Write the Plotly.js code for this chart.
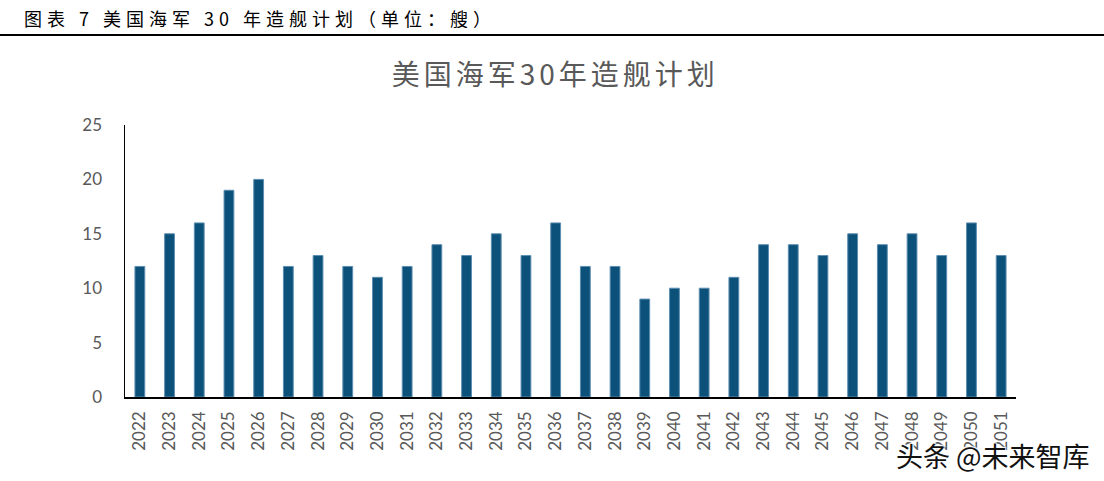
<!DOCTYPE html>
<html>
<head>
<meta charset="utf-8">
<script src="https://cdn.plot.ly/plotly-3.0.1.min.js"></script>
<style>
html,body{margin:0;padding:0;background:#fff;}
#chart{width:1104px;height:481px;}
</style>
</head>
<body>
<div id="chart"></div>
<script>
const years = ["2022","2023","2024","2025","2026","2027","2028","2029","2030","2031","2032","2033","2034","2035","2036","2037","2038","2039","2040","2041","2042","2043","2044","2045","2046","2047","2048","2049","2050","2051"];
const ships = [12,15,16,19,20,12,13,12,11,12,14,13,15,13,16,12,12,9,10,10,11,14,14,13,15,14,15,13,16,13];
const yTicks = [0,5,10,15,20,25];
const headerText = "图表 7 美国海军 30 年造舰计划（单位：艘）";
const titleText = "美国海军30年造舰计划";
const watermark = "头条 @未来智库";

const trace = {
  type: 'bar',
  x: years,
  y: ships,
  marker: {color: '#0b5179', line: {color: '#5d8db0', width: 1}},
  hoverinfo: 'x+y'
};

const layout = {
  width: 1104, height: 481,
  paper_bgcolor: '#fff', plot_bgcolor: '#fff',
  margin: {l: 125, r: 88, t: 125, b: 84},
  bargap: 0.67,
  showlegend: false,
  title: {text: titleText, x: 0.503, xanchor: 'center', y: 1 - 75/481, yanchor: 'middle', yref: 'container',
          font: {family: 'Noto Sans CJK SC', size: 28, color: '#595959'}},
  xaxis: {
    type: 'category', showgrid: false, zeroline: false,
    showline: true, linecolor: '#000', linewidth: 1.5,
    ticks: '', tickangle: -90, ticklabelstandoff: 6,
    tickfont: {family: 'Lato, Open Sans, sans-serif', size: 17, color: '#595959'}
  },
  yaxis: {
    range: [0, 25], tickvals: yTicks, showgrid: false, zeroline: false,
    showline: true, linecolor: '#000', linewidth: 1.5,
    ticks: '', ticklabelstandoff: 18,
    tickfont: {family: 'Lato, Open Sans, sans-serif', size: 17, color: '#595959'}
  },
  shapes: [
    {type: 'line', xref: 'paper', yref: 'paper', x0: -125/891, x1: (1104-125)/891,
     y0: 1 + (125-35)/272, y1: 1 + (125-35)/272, line: {color: '#000', width: 2}}
  ],
  annotations: [
    {text: headerText, xref: 'paper', yref: 'paper', x: (260-125)/891, y: 1 + (125-18)/272,
     xanchor: 'center', yanchor: 'middle', showarrow: false,
     font: {family: 'Noto Sans CJK SC', size: 18, color: '#000'}},
    {text: watermark, xref: 'paper', yref: 'paper', x: (1092-125)/891, y: -(455-397)/272,
     xanchor: 'right', yanchor: 'middle', showarrow: false,
     font: {family: 'Noto Sans CJK SC', size: 27, color: '#111', shadow: '1px 1px 1px #fff, -1px -1px 1px #fff, 1px -1px 1px #fff, -1px 1px 1px #fff'}}
  ]
};

Plotly.newPlot('chart', [trace], layout, {displayModeBar: false, staticPlot: true}).then(function (gd) {
  // widen character spacing to mimic the serif originals
  const ann = gd.querySelectorAll('.annotation-text');
  if (ann[0]) ann[0].style.letterSpacing = '5px';
  const t = gd.querySelector('.gtitle');
  if (t) t.style.letterSpacing = '4px';
});
</script>
</body>
</html>
